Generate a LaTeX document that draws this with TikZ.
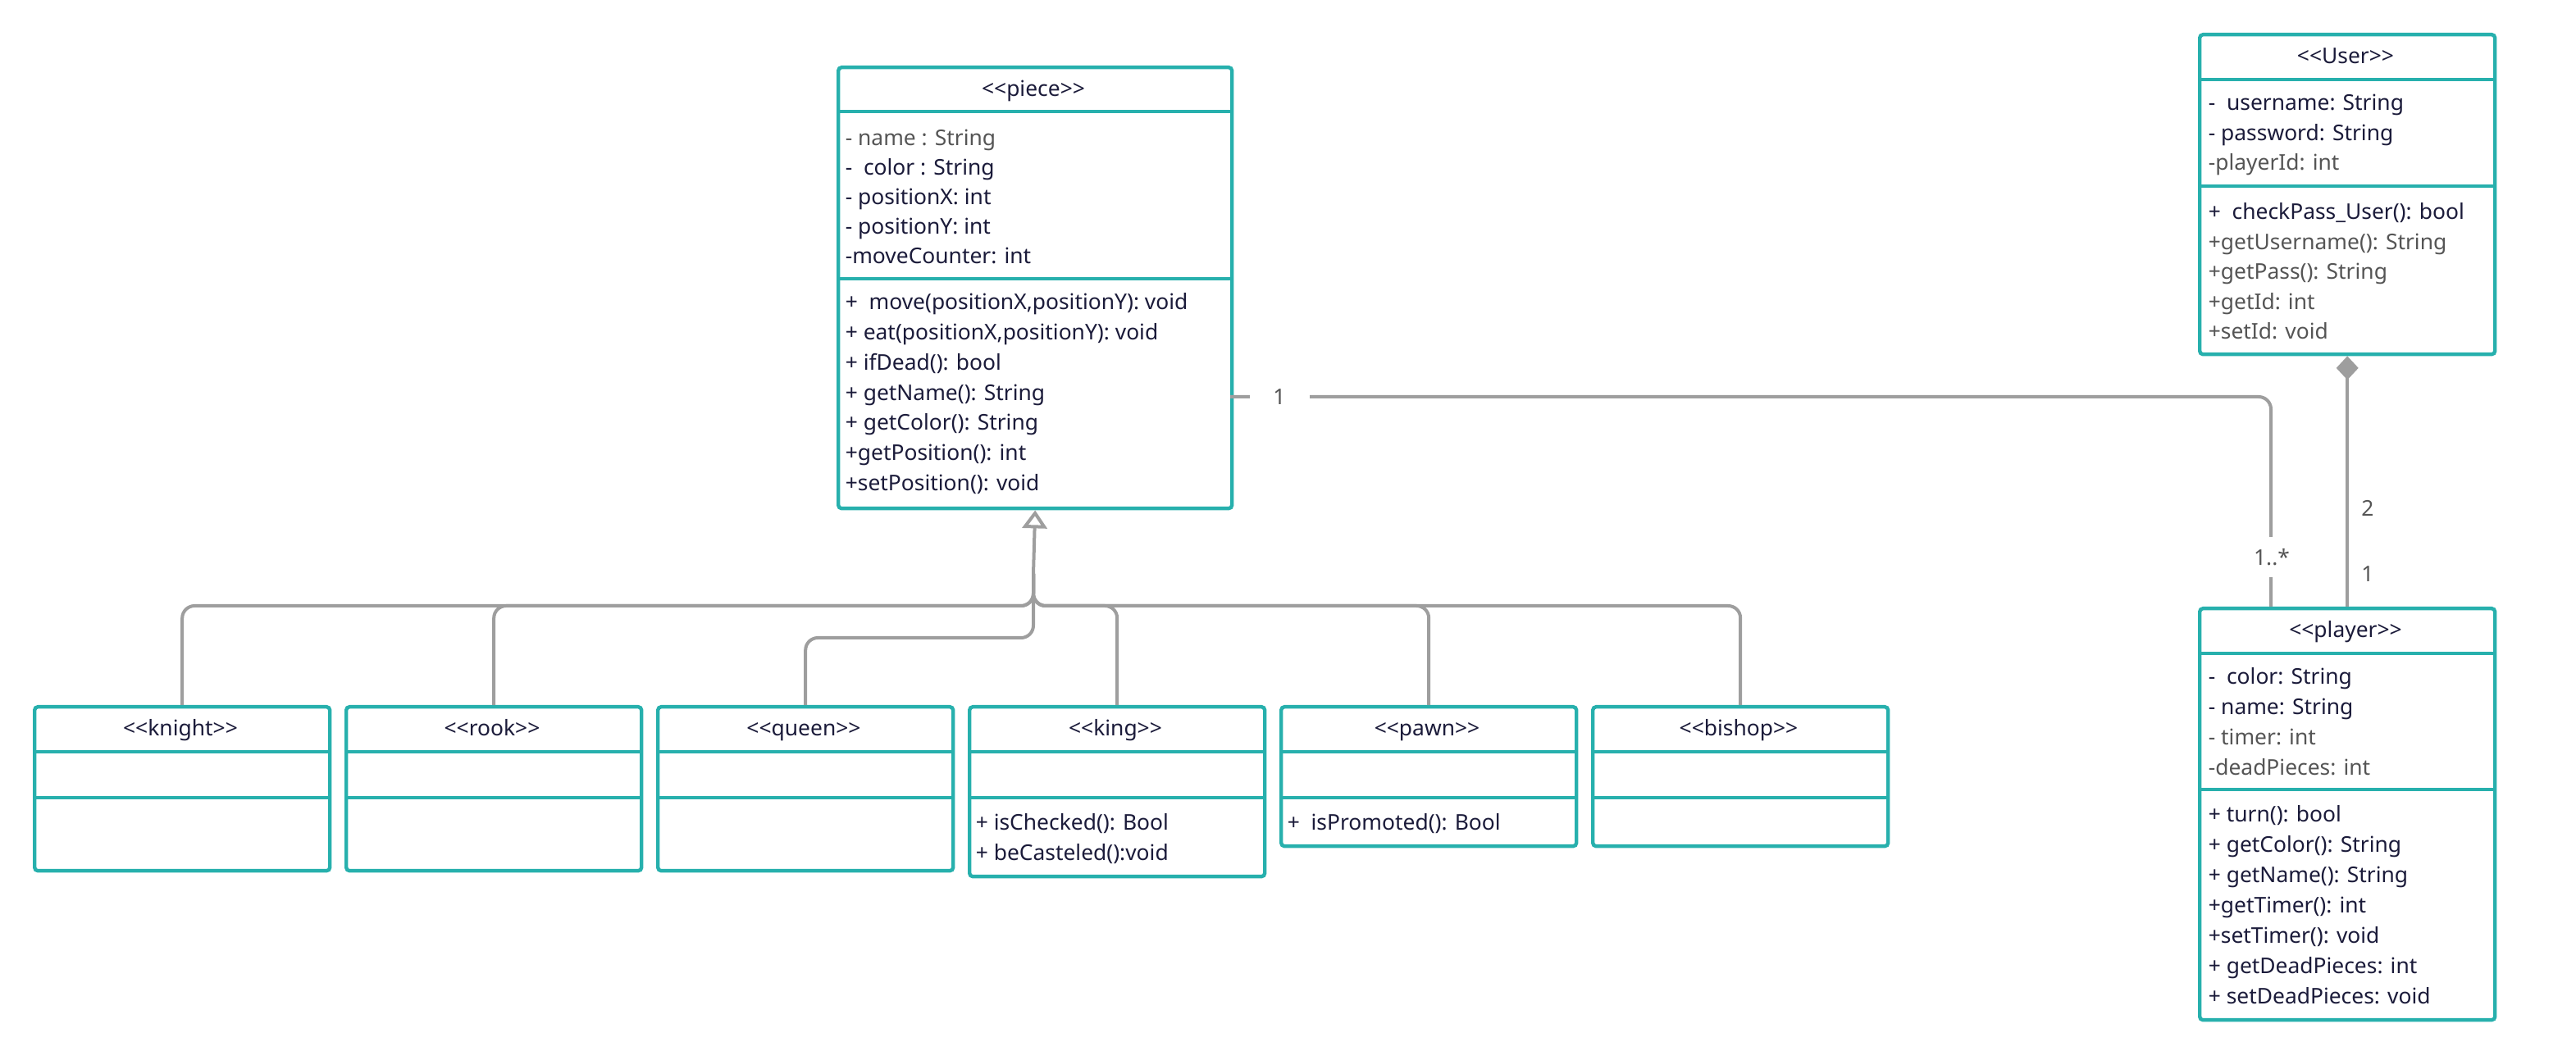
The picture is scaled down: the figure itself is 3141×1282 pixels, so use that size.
\documentclass[tikz,border=0pt]{standalone}
\usepackage{fontspec}
\setmainfont{Noto Sans}
\usetikzlibrary{arrows.meta}

\definecolor{boxteal}{HTML}{27B0AD}
\definecolor{linegray}{HTML}{9E9E9E}
\definecolor{ink}{HTML}{1B1B3A}
\definecolor{greyink}{HTML}{555555}
\newcommand\greytxt{\color{greyink}}
% stereotype brackets kept as two separate characters
\newcommand\stereo[1]{<\kern0pt<#1>\kern0pt>}

\tikzset{
  cls/.style={draw=boxteal, line width=1.1pt, rounded corners=1pt, fill=white,
    inner sep=0pt, anchor=north west},
  divider/.style={draw=boxteal, line width=1.1pt},
  txt/.style={anchor=base west, inner sep=0pt, text=ink},
  head/.style={anchor=base, inner sep=0pt, text=ink},
  link/.style={draw=linegray, line width=1pt, rounded corners=3.75pt},
  mult/.style={inner sep=0pt, text=greyink, fill=white},
  multfree/.style={inner sep=0pt, text=greyink}
}

\begin{document}
\begin{tikzpicture}[x=0.25pt, y=-0.25pt, font=\fontsize{6.6pt}{9pt}\selectfont]
\useasboundingbox (0,0) rectangle (3141,1282);

% ---------- class boxes ----------
\node[cls, minimum width=120pt, minimum height=134.5pt] (piece) at (1020,80) {};
\node[cls, minimum width=90pt, minimum height=97.5pt] (User) at (2680,40) {};
\node[cls, minimum width=90pt, minimum height=125.5pt] (player) at (2680,740) {};

\node[cls, minimum width=90pt, minimum height=50pt] (knight) at (40,860) {};
\node[cls, minimum width=90pt, minimum height=50pt] (rook) at (420,860) {};
\node[cls, minimum width=90pt, minimum height=50pt] (queen) at (800,860) {};
\node[cls, minimum width=90pt, minimum height=51.75pt] (king) at (1180,860) {};
\node[cls, minimum width=90pt, minimum height=42.5pt] (pawn) at (1560,860) {};
\node[cls, minimum width=90pt, minimum height=42.5pt] (bishop) at (1940,860) {};

% ---------- connectors ----------
\coordinate (fork) at (1260,700);
\foreach \c in {knight,rook,king,pawn,bishop}
  \draw[link] (\c.north) |- (1260,739) -- (fork);
\draw[link] (queen.north) |- (1260,778) -- (fork);
\draw[link, -{Triangle[open, length=5.5pt, width=7.5pt, fill=white]}] (fork) -- (piece.south);

\coordinate (asA) at (1500,484);
\coordinate (asB) at (2769,740);
\draw[link] (asA) -| (asB);
\node[mult, minimum width=18.25pt, minimum height=8pt] (m1) at (1560,484) {1};
\node[mult, minimum width=12pt, minimum height=12.25pt] (m2) at (2770,680) {1..*};

\draw[link, {Diamond[length=7.25pt, width=6.75pt, fill=linegray]}-] (User.south) -- (player.north);
\node[multfree] (m3) at (2887,620) {2};
\node[multfree] (m4) at (2887,700) {1};

% ---------- compartments ----------
\foreach \n/\a/\b in {piece/136/340, User/97/227, player/797/963,
    knight/917/973, rook/917/973, queen/917/973, king/917/973, pawn/917/973, bishop/917/973} {
  \draw[divider] (\n.west |- 0,\a) -- (\n.east |- 0,\a);
  \draw[divider] (\n.west |- 0,\b) -- (\n.east |- 0,\b);
}

% ---------- class names ----------
\node[head] (pieceName) at (1260,118) {\stereo{piece}};
\node[head] (UserName) at (2860,78) {\stereo{User}};
\node[head] (playerName) at (2860,778) {\stereo{player}};
\foreach \n/\x in {knight/220, rook/600, queen/980, king/1360, pawn/1740, bishop/2120}
  \node[head] (\n Name) at (\x,898) {\stereo{\n}};

% ---------- piece ----------
\foreach \t [count=\i from 0] in {{\greytxt- name : String}, {-\ \ color : String},
    {- positionX: int}, {- positionY: int}, {-moveCounter: int}}
  \node[txt] (pa\i) at (1030,178+36*\i) {\t};
\foreach \t [count=\i from 0] in {{+\ \ move(positionX,positionY): void},
    {+ eat(positionX,positionY): void}, {+ ifDead(): bool}, {+ getName(): String},
    {+ getColor(): String}, {+getPosition(): int}, {+setPosition(): void}}
  \node[txt] (pm\i) at (1030,378+36.7*\i) {\t};

% ---------- User ----------
\foreach \t [count=\i from 0] in {{-\ \ username: String}, {- password: String},
    {\greytxt-playerId: int}}
  \node[txt] (ua\i) at (2692,135+36.5*\i) {\t};
\foreach \t [count=\i from 0] in {{+\ \ checkPass\_User(): bool},
    {\greytxt+getUsername(): String}, {\greytxt+getPass(): String},
    {\greytxt+getId: int}, {\greytxt+setId: void}}
  \node[txt] (um\i) at (2692,268+36.5*\i) {\t};

% ---------- player ----------
\foreach \t [count=\i from 0] in {{-\ \ color: String}, {- name: String},
    {\greytxt- timer: int}, {\greytxt-deadPieces: int}}
  \node[txt] (la\i) at (2692,835+36.7*\i) {\t};
\foreach \t [count=\i from 0] in {{+ turn(): bool}, {+ getColor(): String},
    {+ getName(): String}, {+getTimer(): int}, {+setTimer(): void},
    {+ getDeadPieces: int}, {+ setDeadPieces: void}}
  \node[txt] (lm\i) at (2692,1003+36.9*\i) {\t};

% ---------- king and pawn ----------
\node[txt] (km0) at (1189,1013) {+ isChecked(): Bool};
\node[txt] (km1) at (1189,1050) {+ beCasteled():void};
\node[txt] (wm0) at (1569,1013) {+\ \ isPromoted(): Bool};

\end{tikzpicture}
\end{document}
